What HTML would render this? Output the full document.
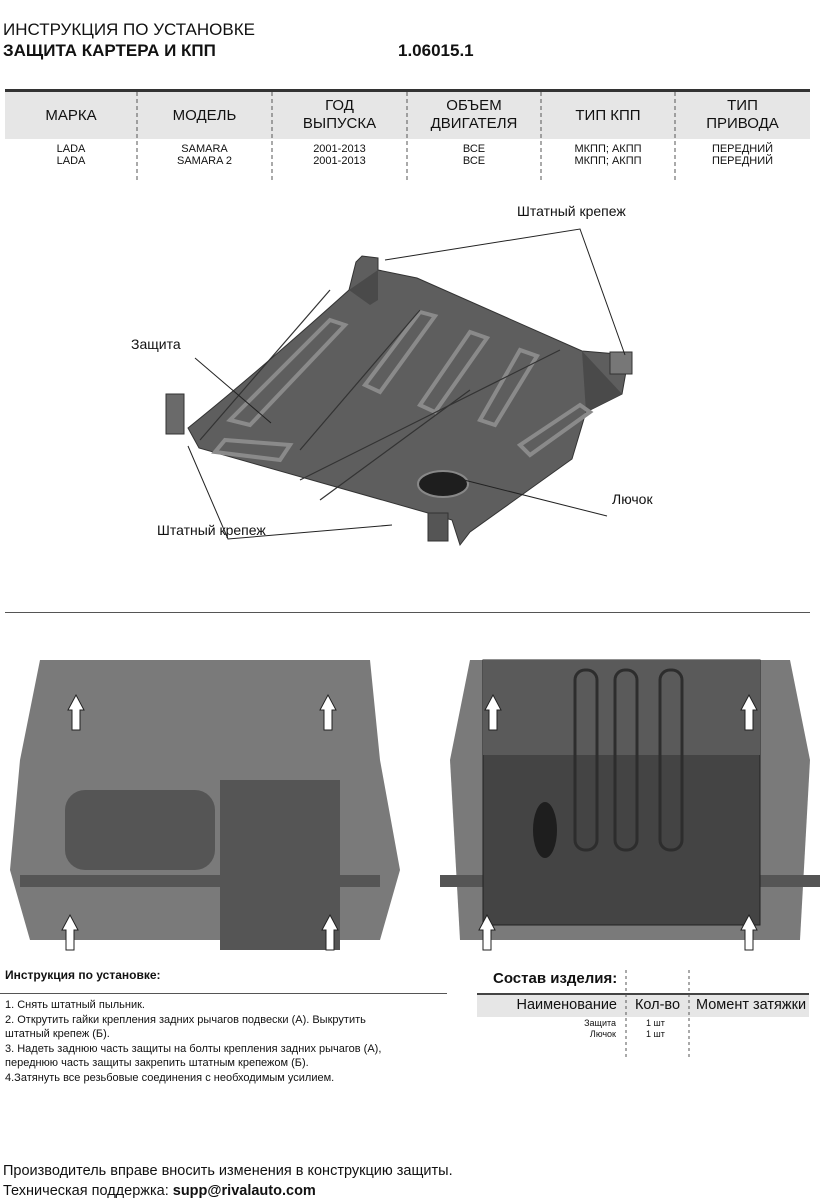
<!DOCTYPE html>
<html><head><meta charset="utf-8"><style>
body{margin:0;width:827px;height:1200px;background:#fff;position:relative;overflow:hidden;font-family:"Liberation Sans","DejaVu Sans",sans-serif;color:#111}
.a{position:absolute;white-space:nowrap}
.c{text-align:center}
</style></head><body>
<div class="a" style="left:3px;top:20px;font-size:17px">ИНСТРУКЦИЯ ПО УСТАНОВКЕ</div>
<div class="a" style="left:3px;top:41px;font-size:17px;font-weight:bold">ЗАЩИТА КАРТЕРА И КПП</div>
<div class="a" style="left:398px;top:41px;font-size:17px;font-weight:bold">1.06015.1</div>

<div class="a" style="left:5px;top:89px;width:805px;height:3px;background:#333"></div>
<div class="a" style="left:5px;top:92px;width:805px;height:47px;background:#e6e6e6"></div>
<svg class="a" style="left:0;top:92px" width="827" height="90">
<g stroke="#555" stroke-dasharray="4,3" stroke-width="1">
<line x1="137" y1="0" x2="137" y2="88"/><line x1="272" y1="0" x2="272" y2="88"/><line x1="407" y1="0" x2="407" y2="88"/><line x1="541" y1="0" x2="541" y2="88"/><line x1="675" y1="0" x2="675" y2="88"/></g></svg>
<div class="a c" style="left:5px;top:107px;width:132px;font-size:15px">МАРКА</div>
<div class="a c" style="left:137px;top:107px;width:135px;font-size:15px">МОДЕЛЬ</div>
<div class="a c" style="left:272px;top:97px;width:135px;font-size:15px;line-height:18px">ГОД<br>ВЫПУСКА</div>
<div class="a c" style="left:407px;top:97px;width:134px;font-size:15px;line-height:18px">ОБЪЕМ<br>ДВИГАТЕЛЯ</div>
<div class="a c" style="left:541px;top:107px;width:134px;font-size:15px">ТИП КПП</div>
<div class="a c" style="left:675px;top:97px;width:135px;font-size:15px;line-height:18px">ТИП<br>ПРИВОДА</div>
<div class="a c" style="left:5px;top:143px;width:132px;font-size:11px;line-height:12px">LADA<br>LADA</div>
<div class="a c" style="left:137px;top:143px;width:135px;font-size:11px;line-height:12px">SAMARA<br>SAMARA 2</div>
<div class="a c" style="left:272px;top:143px;width:135px;font-size:11px;line-height:12px">2001-2013<br>2001-2013</div>
<div class="a c" style="left:407px;top:143px;width:134px;font-size:11px;line-height:12px">ВСЕ<br>ВСЕ</div>
<div class="a c" style="left:541px;top:143px;width:134px;font-size:11px;line-height:12px">МКПП; АКПП<br>МКПП; АКПП</div>
<div class="a c" style="left:675px;top:143px;width:135px;font-size:11px;line-height:12px">ПЕРЕДНИЙ<br>ПЕРЕДНИЙ</div>

<svg class="a" style="left:0;top:0" width="827" height="600">
<path d="M188,428 Q260,370 349,290 L356,262 L362,256 L378,258 L378,270 L417,278 L582,351 L629,355 L622,394 L586,412 L572,459 L470,532 L460,545 L452,520 L428,513 L199,448 Z" fill="#5e5e5e" stroke="#333"/>
<path d="M349,290 L378,270 L378,300 L370,305 Z" fill="#4a4a4a"/>
<path d="M582,351 L622,394 L586,412 Z" fill="#4a4a4a"/>
<g fill="none" stroke="#8a8a8a" stroke-width="4">
<path d="M230,420 L330,320 L345,325 L250,425 Z"/><path d="M365,385 L420,312 L435,316 L380,392 Z"/><path d="M420,405 L470,332 L487,338 L435,412 Z"/><path d="M480,420 L520,350 L537,356 L495,425 Z"/><path d="M520,445 L580,405 L590,412 L530,455 Z"/><path d="M225,440 L290,445 L280,460 L215,452Z"/>
</g>
<g fill="none" stroke="#333" stroke-width="1.2"><path d="M200,440 L330,290"/><path d="M300,450 L420,310"/><path d="M300,480 L420,420 L560,350"/><path d="M320,500 L470,390"/></g>
<ellipse cx="443" cy="484" rx="25" ry="13" fill="#1e1e1e" stroke="#888" stroke-width="2"/>
<rect x="166" y="394" width="18" height="40" fill="#6a6a6a" stroke="#333"/>
<rect x="428" y="513" width="20" height="28" fill="#555" stroke="#333"/>
<rect x="610" y="352" width="22" height="22" fill="#777" stroke="#333"/>
<g stroke="#222" stroke-width="1" fill="none">
<polyline points="385,260 580,229 625,355"/><polyline points="195,358 271,423"/><polyline points="188,446 228,539 392,525"/><polyline points="464,480 607,516"/>
</g>
</svg>
<div class="a" style="left:517px;top:203px;font-size:14px">Штатный крепеж</div>
<div class="a" style="left:131px;top:336px;font-size:14px">Защита</div>
<div class="a" style="left:612px;top:491px;font-size:14px">Лючок</div>
<div class="a" style="left:157px;top:522px;font-size:14px">Штатный крепеж</div>

<div class="a" style="left:5px;top:612px;width:805px;height:1px;background:#555"></div>

<svg class="a" style="left:0;top:640px" width="827" height="320">
<g fill="#7a7a7a"><path d="M40,20 L370,20 L380,120 L400,230 L380,300 L30,300 L10,230 L20,120Z"/><path d="M470,20 L790,20 L810,120 L800,300 L460,300 L450,120Z"/></g>
<g fill="#555"><rect x="65" y="150" width="150" height="80" rx="20"/><rect x="220" y="140" width="120" height="170"/><rect x="20" y="235" width="360" height="12"/><rect x="440" y="235" width="380" height="12"/></g>
<rect x="483" y="20" width="277" height="265" fill="#444" stroke="#222"/>
<rect x="483" y="20" width="277" height="95" fill="#5a5a5a"/>
<g fill="none" stroke="#2d2d2d" stroke-width="3"><rect x="575" y="30" width="22" height="180" rx="10"/><rect x="615" y="30" width="22" height="180" rx="10"/><rect x="660" y="30" width="22" height="180" rx="10"/></g>
<ellipse cx="545" cy="190" rx="12" ry="28" fill="#1e1e1e"/>
<g fill="#fff" stroke="#222"><path d="M68,70 L76,55 L84,70 L80,70 L80,90 L72,90 L72,70Z"/><path d="M320,70 L328,55 L336,70 L332,70 L332,90 L324,90 L324,70Z"/><path d="M62,290 L70,275 L78,290 L74,290 L74,310 L66,310 L66,290Z"/><path d="M322,290 L330,275 L338,290 L334,290 L334,310 L326,310 L326,290Z"/><path d="M485,70 L493,55 L501,70 L497,70 L497,90 L489,90 L489,70Z"/><path d="M741,70 L749,55 L757,70 L753,70 L753,90 L745,90 L745,70Z"/><path d="M479,290 L487,275 L495,290 L491,290 L491,310 L483,310 L483,290Z"/><path d="M741,290 L749,275 L757,290 L753,290 L753,310 L745,310 L745,290Z"/></g>
</svg>

<div class="a" style="left:5px;top:968px;font-size:12px;font-weight:bold">Инструкция по установке:</div>
<div class="a" style="left:0;top:993px;width:447px;height:1px;background:#555"></div>
<div class="a" style="left:5px;top:998px;font-size:11px;line-height:14.5px">1. Снять штатный пыльник.<br>2. Открутить гайки крепления задних рычагов подвески (А). Выкрутить<br>штатный крепеж (Б).<br>3. Надеть заднюю часть защиты на болты крепления задних рычагов (А),<br>переднюю часть защиты закрепить штатным крепежом (Б).<br>4.Затянуть все резьбовые соединения с необходимым усилием.</div>

<div class="a" style="left:493px;top:970px;font-size:15px;font-weight:bold">Состав изделия:</div>
<div class="a" style="left:477px;top:993px;width:332px;height:2px;background:#444"></div>
<div class="a" style="left:477px;top:995px;width:332px;height:22px;background:#e6e6e6"></div>
<svg class="a" style="left:0;top:970px" width="827" height="90"><g stroke="#555" stroke-dasharray="3,3"><line x1="626" y1="0" x2="626" y2="90"/><line x1="689" y1="0" x2="689" y2="90"/></g></svg>
<div class="a" style="left:477px;top:997px;width:140px;text-align:right;font-size:14.5px">Наименование</div>
<div class="a c" style="left:626px;top:997px;width:63px;font-size:14.5px">Кол-во</div>
<div class="a" style="left:696px;top:997px;font-size:14.5px">Момент затяжки</div>
<div class="a" style="left:477px;top:1018px;width:139px;text-align:right;font-size:9px;line-height:11px">Защита<br>Лючок</div>
<div class="a" style="left:646px;top:1018px;font-size:9px;line-height:11px">1 шт<br>1 шт</div>

<div class="a" style="left:3px;top:1163px;font-size:14.5px">Производитель вправе вносить изменения в конструкцию защиты.</div>
<div class="a" style="left:3px;top:1183px;font-size:14.5px">Техническая поддержка: <b>supp@rivalauto.com</b></div>
</body></html>
